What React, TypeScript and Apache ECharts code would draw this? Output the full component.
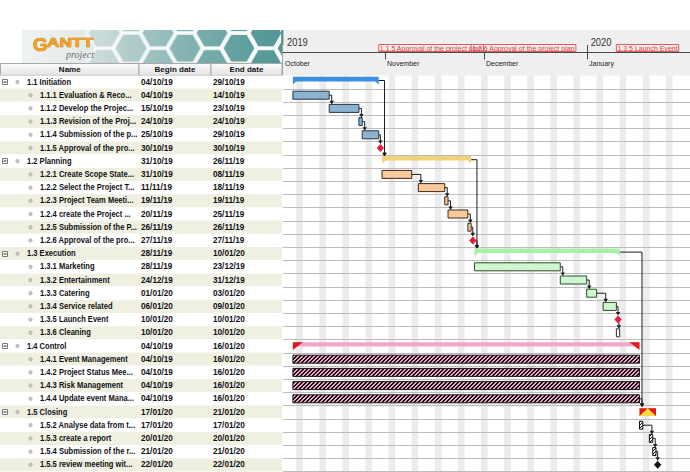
import { useEffect, useRef } from 'react';
import * as echarts from 'echarts';

// ---------------- data ----------------
const columnTitles = ['Name', 'Begin date', 'End date'];

const names = [
  '1.1 Initiation',
  '1.1.1 Evaluation & Reco...',
  '1.1.2 Develop the Projec...',
  '1.1.3 Revision of the Proj...',
  '1.1.4 Submission of the p...',
  '1.1.5 Approval of the pro...',
  '1.2 Planning',
  '1.2.1 Create Scope State...',
  '1.2.2 Select the Project T...',
  '1.2.3 Project Team Meeti...',
  '1.2.4 create the Project ...',
  '1.2.5 Submission of the P...',
  '1.2.6 Approval of the pro...',
  '1.3 Execution',
  '1.3.1 Marketing',
  '1.3.2 Entertainment',
  '1.3.3 Catering',
  '1.3.4 Service related',
  '1.3.5 Launch Event',
  '1.3.6 Cleaning',
  '1.4 Control',
  '1.4.1 Event Management',
  '1.4.2 Project Status Mee...',
  '1.4.3 Risk Management',
  '1.4.4 Update event Mana...',
  '1.5 Closing',
  '1.5.2 Analyse data from t...',
  '1.5.3 create a report',
  '1.5.4 Submission of the r...',
  '1.5.5 review meeting wit...',
];

const levels = [1, 2, 2, 2, 2, 2, 1, 2, 2, 2, 2, 2, 2, 1, 2, 2, 2, 2, 2, 2, 1, 2, 2, 2, 2, 1, 2, 2, 2, 2];

const beginDates = [
  '04/10/19', '04/10/19', '15/10/19', '24/10/19', '25/10/19', '30/10/19',
  '31/10/19', '31/10/19', '11/11/19', '19/11/19', '20/11/19', '26/11/19', '27/11/19',
  '28/11/19', '28/11/19', '24/12/19', '01/01/20', '06/01/20', '10/01/20', '10/01/20',
  '04/10/19', '04/10/19', '04/10/19', '04/10/19', '04/10/19',
  '17/01/20', '17/01/20', '20/01/20', '21/01/20', '22/01/20',
];

const endDates = [
  '29/10/19', '14/10/19', '23/10/19', '24/10/19', '29/10/19', '30/10/19',
  '26/11/19', '08/11/19', '18/11/19', '19/11/19', '25/11/19', '26/11/19', '27/11/19',
  '10/01/20', '23/12/19', '31/12/19', '03/01/20', '09/01/20', '10/01/20', '10/01/20',
  '16/01/20', '16/01/20', '16/01/20', '16/01/20', '16/01/20',
  '21/01/20', '17/01/20', '20/01/20', '21/01/20', '22/01/20',
];

const kinds = [
  'summary', 'task', 'task', 'task', 'task', 'milestone',
  'summary', 'task', 'task', 'task', 'task', 'task', 'milestone',
  'summary', 'task', 'task', 'task', 'task', 'milestone', 'task',
  'summary', 'task', 'task', 'task', 'task',
  'summary', 'task', 'task', 'task', 'milestone',
];

const groups = [
  'init', 'init', 'init', 'init', 'init', 'init',
  'plan', 'plan', 'plan', 'plan', 'plan', 'plan', 'plan',
  'exec', 'exec', 'exec', 'exec', 'exec', 'exec', 'plain',
  'ctrl', 'ctrl', 'ctrl', 'ctrl', 'ctrl',
  'close', 'close', 'close', 'close', 'close',
];

// [predecessor row, successor row]
const dependencies = [
  [1, 2], [2, 3], [3, 4], [4, 5], [5, 6], [0, 6],
  [7, 8], [8, 9], [9, 10], [10, 11], [11, 12], [12, 13], [6, 13],
  [14, 15], [15, 16], [16, 17], [17, 18], [18, 19],
  [13, 25], [24, 25],
  [26, 27], [27, 28], [28, 29],
];

const monthStarts = ['01/10/19', '01/11/19', '01/12/19', '01/01/20'];
const monthLabels = ['October', 'November', 'December', 'January'];
const yearStarts = ['01/10/19', '01/01/20'];
const yearLabels = ['2019', '2020'];
const headerLabelRows = [5, 12, 18];
const headerLabelTexts = [
  '1.1.5 Approval of the project plan',
  '1.2.6 Approval of the project plan',
  '1.3.5 Launch Event',
];
const axisStart = '01/10/19';
const axisEnd = '01/02/20';

// ---------------- helpers ----------------
const DAY = 86400000;
const parseDate = (s: string) => {
  const [d, m, y] = s.split('/').map(Number);
  return new Date(2000 + y, m - 1, d).getTime();
};
const beginMs = beginDates.map(parseDate);
const endMs = endDates.map((s) => parseDate(s) + DAY);

const FONT = '"Liberation Sans", Arial, sans-serif';
const TOP = 75.4;
const ROWH = 13.2;
const H = ROWH * names.length;
const SPLIT = 283;

function makeHatch(bg: string, fg: string, size: number, thick: number) {
  const c = document.createElement('canvas');
  c.width = size;
  c.height = size;
  const ctx = c.getContext('2d')!;
  ctx.fillStyle = bg;
  ctx.fillRect(0, 0, size, size);
  ctx.fillStyle = fg;
  for (let k = 0; k < size; k++) {
    for (let t = 0; t < thick; t++) {
      ctx.fillRect(k, (size - 1 - k + t) % size, 1, 1);
    }
  }
  return { image: c.toDataURL(), repeat: 'repeat', imageWidth: size, imageHeight: size };
}

function buildOption() {
  const hatchPink = makeHatch('#eaa6c8', '#1a0a10', 4, 2);
  const hatchBW = makeHatch('#ffffff', '#111111', 3, 1);

  const STYLES: any = {
    init: { summary: '#3e8fe2', fill: '#8db3cf', stroke: '#22364a', ms: '#e61e3c', ends: 'hook' },
    plan: { summary: '#f2d277', fill: '#f9c99b', stroke: '#3a2a1c', ms: '#e61e3c', ends: 'hook' },
    exec: { summary: '#a8f0a8', fill: '#cff6cf', stroke: '#294f29', ms: '#e61e3c', ends: 'hook' },
    plain: { fill: '#ffffff', stroke: '#333333' },
    ctrl: { summary: '#f5a5c7', fill: hatchPink, stroke: '#1a1a1a', ends: 'red', bg: 'top' },
    close: { summary: '#f9dc3c', fill: hatchBW, stroke: '#111111', ms: '#111111', ends: 'red', bg: 'full' },
  };

  const weekendStarts: number[] = [];
  for (let d = new Date(parseDate(axisStart)); d.getTime() < parseDate(axisEnd); d.setDate(d.getDate() + 1)) {
    if (d.getDay() === 6) weekendStarts.push(d.getTime());
  }

  // ---------- graphic (static layout: logo, header backgrounds) ----------
  const graphic: any[] = [];
  graphic.push({
    type: 'rect', z: 0,
    shape: { x: 22, y: 30, width: 262, height: 33.5 },
    style: {
      fill: {
        type: 'linear', x: 0, y: 0, x2: 1, y2: 0,
        colorStops: [
          { offset: 0, color: '#eef2f2' },
          { offset: 0.3, color: '#e1e8e7' },
          { offset: 0.6, color: '#a4c6c4' },
          { offset: 1, color: '#4d9592' },
        ],
      },
    },
  });
  const R = 17;
  for (let k = 0; k < 8; k++) {
    for (let m = -1; m <= 1; m++) {
      const cx = 104 + k * 27;
      const cy = 33 + m * 30.5 + (k % 2) * 15.2;
      if (cy - R * 0.87 > 63 || cx - R > 282) continue;
      const pts: number[][] = [];
      for (let a = 0; a < 6; a++) {
        const th = (Math.PI / 3) * a;
        pts.push([cx + R * Math.cos(th), cy + R * Math.sin(th)]);
      }
      const t = Math.max(0, Math.min(1, (cx - 95) / 190));
      graphic.push({
        type: 'polygon', z: 0,
        shape: { points: pts },
        style: {
          fill: `rgba(${Math.round(130 - 50 * t)},${Math.round(176 - 26 * t)},${Math.round(174 - 26 * t)},${0.2 + 0.6 * t})`,
          stroke: `rgba(255,255,255,${0.6 + 0.35 * t})`,
          lineWidth: 3,
        },
      });
    }
  }
  // white covers round the logo
  graphic.push({ type: 'rect', z: 0, shape: { x: 0, y: 0, width: 690, height: 30 }, style: { fill: '#ffffff' } });
  graphic.push({ type: 'rect', z: 0, shape: { x: 0, y: 30, width: 22, height: 34 }, style: { fill: '#ffffff' } });
  graphic.push({ type: 'rect', z: 0, shape: { x: 282, y: TOP, width: 408, height: 472 - TOP }, style: { fill: '#ffffff' } });
  // GANTT project wordmark
  graphic.push({
    type: 'text', z: 1, x: 33, y: 44,
    style: { text: 'G', font: `bold 19px ${FONT}`, fill: '#f5a31f', stroke: '#c06d00', lineWidth: 0.7, verticalAlign: 'middle' },
  });
  graphic.push({
    type: 'text', z: 1, x: 47, y: 43, scaleX: 1.45,
    style: { text: 'ANTT', font: `bold 12px ${FONT}`, fill: '#f5a31f', stroke: '#c06d00', lineWidth: 0.6, verticalAlign: 'middle' },
  });
  graphic.push({
    type: 'text', z: 1, x: 66, y: 54,
    style: { text: 'project', font: 'italic 10px "Liberation Serif", serif', fill: '#6f6f6f', verticalAlign: 'middle' },
  });
  // column headers
  const cols = [
    { x: 0.5, w: 138.5 },
    { x: 139, w: 72 },
    { x: 211, w: 71 },
  ];
  cols.forEach((c, idx) => {
    graphic.push({
      type: 'rect', z: 0,
      shape: { x: c.x, y: 63.5, width: c.w, height: 11.9 },
      style: {
        fill: { type: 'linear', x: 0, y: 0, x2: 0, y2: 1, colorStops: [{ offset: 0, color: '#fbfbfb' }, { offset: 1, color: '#e4e4e4' }] },
        stroke: '#a9a9a9', lineWidth: 1,
      },
    });
    graphic.push({
      type: 'text', z: 1, x: c.x + c.w / 2, y: 69.6,
      style: { text: columnTitles[idx], font: `bold 8px ${FONT}`, fill: '#111', align: 'center', verticalAlign: 'middle' },
    });
  });
  // timeline header background
  graphic.push({ type: 'rect', z: 0, shape: { x: 282, y: 30, width: 408, height: TOP - 30 }, style: { fill: '#efefef' } });
  graphic.push({ type: 'line', z: 1, shape: { x1: 282.5, y1: 30, x2: 282.5, y2: TOP }, style: { stroke: '#a0a0a0', lineWidth: 1 } });
  graphic.push({ type: 'rect', z: 1, shape: { x: 281, y: 30, width: 2.5, height: 15 }, style: { fill: '#5b9896' } });
  graphic.push({ type: 'line', z: 1, shape: { x1: 283, y1: 52.5, x2: 690, y2: 52.5 }, style: { stroke: '#4a4a4a', lineWidth: 1 } });

  // ---------- series ----------
  const tableSeries = {
    type: 'custom', xAxisIndex: 0, yAxisIndex: 0, z: 2, silent: true,
    encode: { x: 0, y: 1 },
    data: names.map((_, i) => [0, i]),
    renderItem: (params: any, api: any) => {
      const i = api.value(1);
      const cy = api.coord([0, i])[1];
      const h = api.size([0, 1])[1];
      const cs = params.coordSys;
      const lvl = levels[i];
      const ch: any[] = [];
      ch.push({ type: 'rect', shape: { x: cs.x, y: cy - h / 2, width: cs.width, height: h }, style: { fill: i % 2 ? '#efefe2' : '#ffffff' } });
      if (lvl === 1) {
        ch.push({ type: 'rect', shape: { x: 2.5, y: Math.round(cy) - 2.5, width: 5, height: 5 }, style: { fill: '#fff', stroke: '#7a7a7a', lineWidth: 1 } });
        ch.push({ type: 'line', shape: { x1: 3.5, y1: Math.round(cy), x2: 6.5, y2: Math.round(cy) }, style: { stroke: '#222', lineWidth: 1 } });
      }
      ch.push({ type: 'circle', shape: { cx: lvl === 1 ? 17.5 : 30.5, cy, r: 1.7 }, style: { fill: '#c9c9c9', stroke: '#9a9a9a', lineWidth: 0.6 } });
      ch.push({ type: 'text', x: lvl === 1 ? 27 : 40, y: cy, scaleX: 0.9, style: { text: names[i], font: `bold 8.4px ${FONT}`, fill: '#111', verticalAlign: 'middle' } });
      ch.push({ type: 'text', x: 141, y: cy, style: { text: beginDates[i], font: `bold 8.2px ${FONT}`, fill: '#111', verticalAlign: 'middle' } });
      ch.push({ type: 'text', x: 213, y: cy, style: { text: endDates[i], font: `bold 8.2px ${FONT}`, fill: '#111', verticalAlign: 'middle' } });
      return { type: 'group', children: ch };
    },
  };

  const weekendSeries = {
    type: 'custom', xAxisIndex: 1, yAxisIndex: 1, z: 1, silent: true,
    encode: { x: 0, y: 1 },
    data: weekendStarts.map((t) => [t, 0]),
    renderItem: (params: any, api: any) => {
      const t = api.value(0);
      const x0 = api.coord([t, 0])[0];
      const x1 = api.coord([t + 2 * DAY, 0])[0];
      const cs = params.coordSys;
      return { type: 'rect', shape: { x: x0, y: cs.y, width: x1 - x0, height: cs.height }, style: { fill: '#ececec' } };
    },
  };

  const rowLineSeries = {
    type: 'custom', xAxisIndex: 1, yAxisIndex: 1, z: 1, silent: true,
    encode: { x: 0, y: 1 },
    data: names.map((_, i) => [parseDate(axisStart), i]),
    renderItem: (params: any, api: any) => {
      const i = api.value(1);
      const cy = api.coord([api.value(0), i])[1];
      const h = api.size([0, 1])[1];
      const cs = params.coordSys;
      const y = Math.round(cy + h / 2) + 0.5;
      return { type: 'line', shape: { x1: cs.x, y1: y, x2: cs.x + cs.width + 1, y2: y }, style: { stroke: '#bcbcbc', lineWidth: 1 } };
    },
  };

  const monthSeries = {
    type: 'custom', xAxisIndex: 1, yAxisIndex: 1, z: 5, silent: true,
    encode: { x: 0, y: 1 },
    data: monthStarts.map((s, i) => [parseDate(s), 0, i]),
    renderItem: (params: any, api: any) => {
      const t = api.value(0);
      const idx = api.value(2);
      const x = Math.round(api.coord([t, 0])[0]) + 0.5;
      const isYear = new Date(t).getMonth() === 0;
      const ch: any[] = [];
      if (x > params.coordSys.x + 2) {
        ch.push({ type: 'line', shape: { x1: x, y1: isYear ? 45 : 52.5, x2: x, y2: 59.5 }, style: { stroke: '#4a4a4a', lineWidth: 1 } });
      }
      ch.push({ type: 'text', x: x + 1.5, y: 63.8, style: { text: monthLabels[idx], font: `7px ${FONT}`, fill: '#222', verticalAlign: 'middle' } });
      return { type: 'group', children: ch };
    },
  };

  const yearSeries = {
    type: 'custom', xAxisIndex: 1, yAxisIndex: 1, z: 5, silent: true,
    encode: { x: 0, y: 1 },
    data: yearStarts.map((s, i) => [parseDate(s), 0, i]),
    renderItem: (params: any, api: any) => {
      const x = api.coord([api.value(0), 0])[0];
      return { type: 'text', x: x + 4, y: 42, scaleX: 0.85, style: { text: yearLabels[api.value(2)], font: `11px ${FONT}`, fill: '#333', verticalAlign: 'middle' } };
    },
  };

  const headerLabelSeries = {
    type: 'custom', xAxisIndex: 1, yAxisIndex: 1, z: 6, silent: true,
    encode: { x: 0, y: 1 },
    data: headerLabelRows.map((r, i) => [beginMs[r], 0, i]),
    renderItem: (params: any, api: any) => {
      const x = api.coord([api.value(0), 0])[0];
      return {
        type: 'text', x: x, y: 48,
        style: {
          text: headerLabelTexts[api.value(2)], font: `7px ${FONT}`, fill: '#e03a3a',
          verticalAlign: 'middle', borderColor: '#e25b5b', borderWidth: 1, padding: [0, 1, 0, 1],
        },
      };
    },
  };

  const depSeries = {
    type: 'custom', xAxisIndex: 1, yAxisIndex: 1, z: 3, silent: true,
    encode: { x: 0, y: 1 },
    data: dependencies.map(([f, t]) => [beginMs[t], t, f]),
    renderItem: (params: any, api: any) => {
      const t = api.value(1);
      const f = api.value(2);
      const predEnd = api.coord([endMs[f], f]);
      const succStart = api.coord([beginMs[t], t]);
      const cyF = predEnd[1];
      const cyT = succStart[1];
      let tx = succStart[0] + 2.5;
      if (kinds[t] === 'milestone') tx = (succStart[0] + api.coord([endMs[t], t])[0]) / 2;
      const pts: number[][] = [];
      if (kinds[f] === 'milestone') {
        const mx = (api.coord([beginMs[f], f])[0] + predEnd[0]) / 2;
        if (tx > mx + 3.7) pts.push([mx + 3.7, cyF], [tx, cyF]);
        else pts.push([tx, cyF + 2]);
      } else {
        const sy = kinds[f] === 'summary' ? cyF - 1.5 : cyF;
        pts.push([predEnd[0], sy], [tx, sy]);
      }
      const ty = cyT - (kinds[t] === 'summary' ? 4.8 : 4);
      pts.push([tx, ty - 3]);
      return {
        type: 'group',
        children: [
          { type: 'polyline', shape: { points: pts }, style: { stroke: '#1b1b1b', lineWidth: 1, fill: null } },
          { type: 'polygon', shape: { points: [[tx - 2.2, ty - 3.6], [tx + 2.2, ty - 3.6], [tx, ty]] }, style: { fill: '#1b1b1b' } },
        ],
      };
    },
  };

  const barSeries = {
    type: 'custom', xAxisIndex: 1, yAxisIndex: 1, z: 4, silent: true,
    encode: { x: [0, 2], y: 1 },
    data: names.map((_, i) => [beginMs[i], i, endMs[i]]),
    renderItem: (params: any, api: any) => {
      const s = api.value(0);
      const i = api.value(1);
      const e = api.value(2);
      const p0 = api.coord([s, i]);
      const x0 = p0[0];
      const cy = p0[1];
      const x1 = api.coord([e, i])[0];
      const kind = kinds[i];
      const st = STYLES[groups[i]];
      if (kind === 'task') {
        return { type: 'rect', shape: { x: x0, y: cy - 4, width: x1 - x0, height: 8 }, style: { fill: st.fill, stroke: st.stroke, lineWidth: 1 } };
      }
      if (kind === 'milestone') {
        const mx = (x0 + x1) / 2;
        return { type: 'polygon', shape: { points: [[mx, cy - 4], [mx + 3.7, cy], [mx, cy + 4], [mx - 3.7, cy]] }, style: { fill: st.ms } };
      }
      if (st.ends === 'hook') {
        return {
          type: 'group',
          children: [
            { type: 'rect', shape: { x: x0, y: cy - 5.2, width: x1 - x0, height: 4.6 }, style: { fill: st.summary } },
            { type: 'polygon', shape: { points: [[x0, cy - 1], [x0 + 4, cy - 1], [x0, cy + 2.6]] }, style: { fill: st.summary } },
            { type: 'polygon', shape: { points: [[x1, cy - 1], [x1 - 4, cy - 1], [x1, cy + 2.6]] }, style: { fill: st.summary } },
          ],
        };
      }
      const w = Math.min(10, (x1 - x0) / 2);
      const top = cy - 3.8;
      const bot = cy + 4;
      return {
        type: 'group',
        children: [
          { type: 'rect', shape: { x: x0, y: top, width: x1 - x0, height: st.bg === 'full' ? bot - top : 4.4 }, style: { fill: st.summary } },
          { type: 'polygon', shape: { points: [[x0, top], [x0 + w, top], [x0, bot]] }, style: { fill: '#e3171d' } },
          { type: 'polygon', shape: { points: [[x1, top], [x1 - w, top], [x1, bot]] }, style: { fill: '#e3171d' } },
        ],
      };
    },
  };

  return {
    animation: false,
    backgroundColor: '#ffffff',
    grid: [
      { left: 0, top: TOP, width: 282, height: H },
      { left: SPLIT, top: TOP, width: 690 - SPLIT - 1, height: H },
    ],
    xAxis: [
      { gridIndex: 0, type: 'value', min: 0, max: 282, show: false },
      { gridIndex: 1, type: 'time', min: parseDate(axisStart), max: parseDate(axisEnd), show: false },
    ],
    yAxis: [
      { gridIndex: 0, type: 'category', data: names, inverse: true, show: false },
      { gridIndex: 1, type: 'category', data: names, inverse: true, show: false },
    ],
    graphic,
    series: [tableSeries, weekendSeries, rowLineSeries, depSeries, barSeries, monthSeries, yearSeries, headerLabelSeries],
  };
}

export default function App() {
  const ref = useRef<HTMLDivElement>(null);
  useEffect(() => {
    const chart = echarts.init(ref.current!, null, { renderer: 'svg' });
    chart.setOption(buildOption() as any);
    return () => chart.dispose();
  }, []);
  return (
    <div
      ref={ref}
      style={{ position: 'fixed', left: 0, top: 0, width: 690, height: 472, background: '#ffffff' }}
    />
  );
}
